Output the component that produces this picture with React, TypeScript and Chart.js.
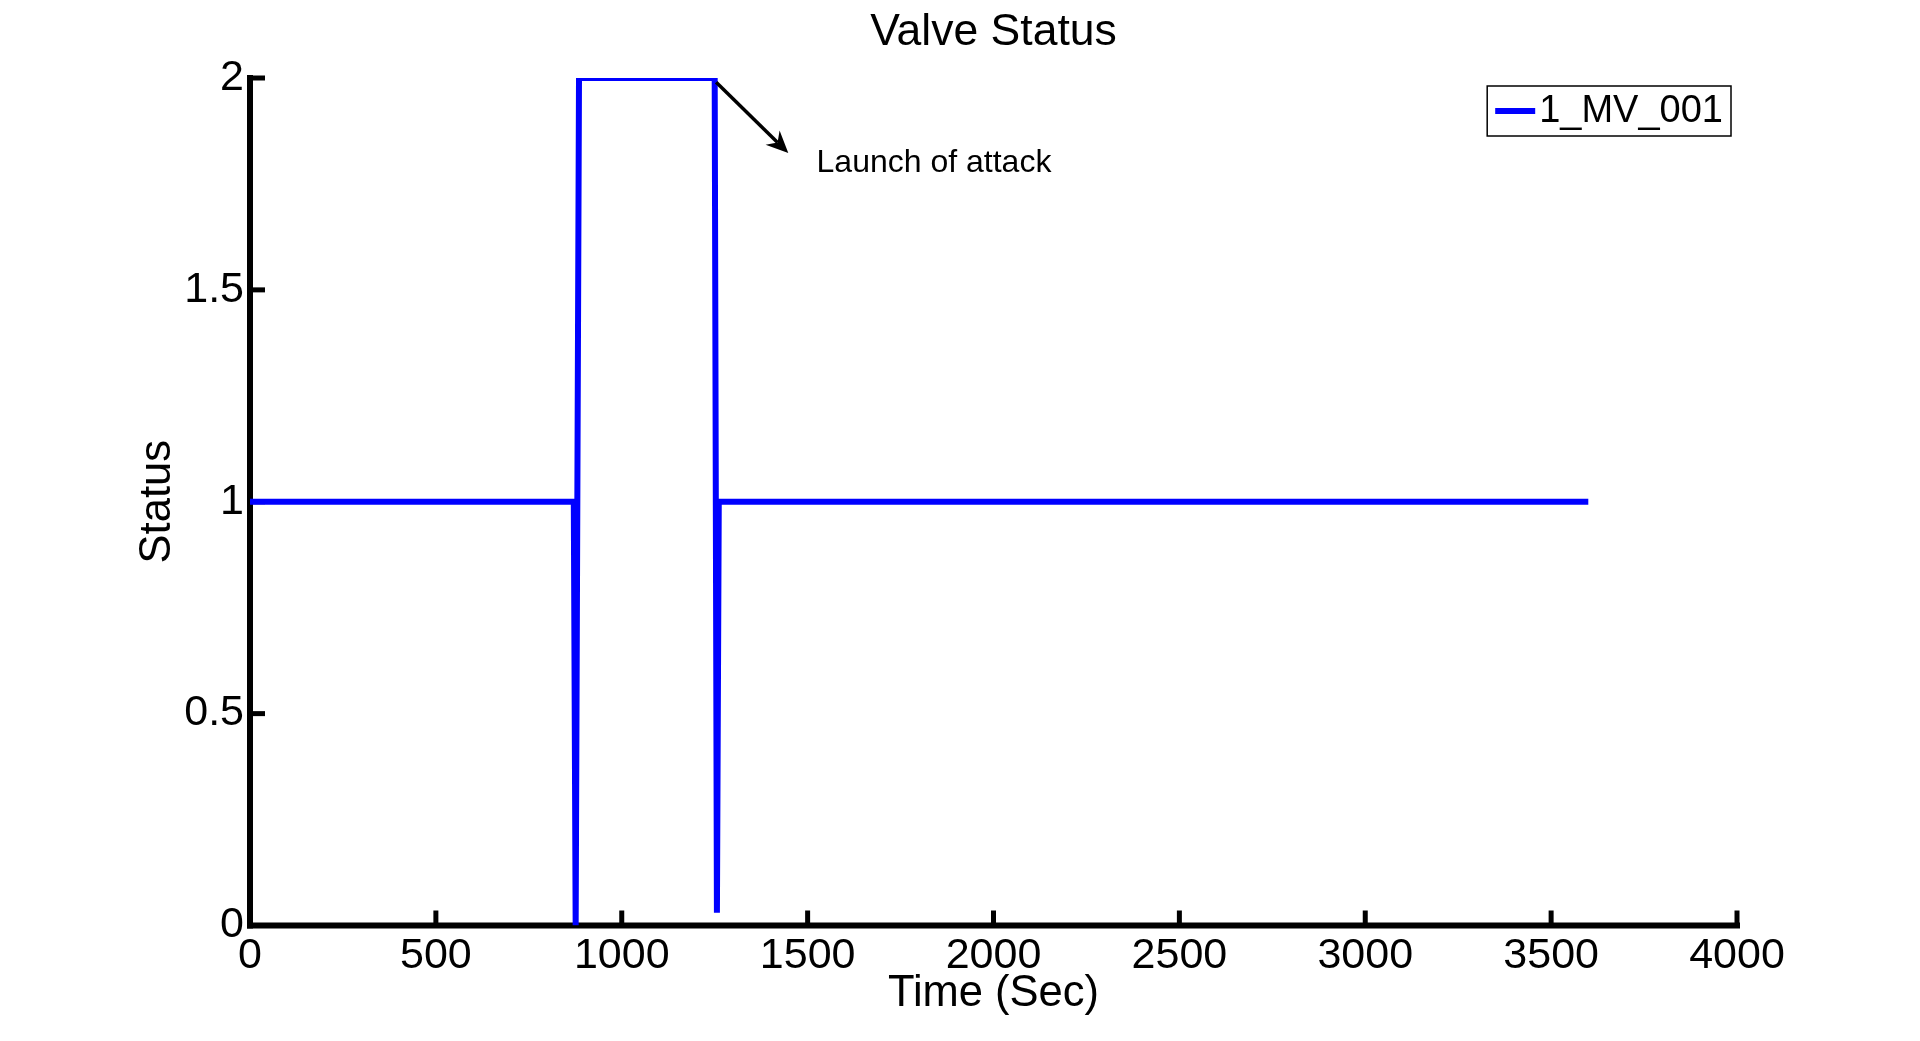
import React, { useEffect, useRef } from "react";
import { Chart, registerables } from "chart.js";

Chart.register(...registerables);

const FONT = "'Liberation Sans', Arial, Helvetica, sans-serif";

// Series: time (s) and valve status
const seriesLabel = "1_MV_001";
const times = [0, 871, 876, 885, 1250, 1256, 1261, 3600];
const status = [1, 1, 0, 2, 2, 0.03, 1, 1];

// Axis ticks
const xTickValues = [0, 500, 1000, 1500, 2000, 2500, 3000, 3500, 4000];
const yTickValues = [0, 0.5, 1, 1.5, 2];
const yTickLabels = ["0", "0.5", "1", "1.5", "2"];

// Annotation
const arrowFrom = { x: 1254, y: 1.99 };
const arrowTo = { x: 1448, y: 1.823 };
const noteText = "Launch of attack";
const notePos = { x: 1524, y: 1.8 };

const titleText = "Valve Status";
const xTitle = "Time (Sec)";
const yTitle = "Status";

const axesPlugin = {
  id: "matlabAxes",
  beforeDatasetsDraw(chart: any) {
    const { ctx, chartArea, scales } = chart;
    const { left, right, top, bottom } = chartArea;
    ctx.save();
    ctx.strokeStyle = "#000";
    ctx.lineCap = "butt";
    ctx.lineWidth = 5;
    xTickValues.forEach((v) => {
      const px = scales.x.getPixelForValue(v);
      ctx.beginPath();
      ctx.moveTo(px, bottom);
      ctx.lineTo(px, bottom - 15);
      ctx.stroke();
    });
    yTickValues.forEach((v) => {
      const py = scales.y.getPixelForValue(v);
      ctx.beginPath();
      ctx.moveTo(left, py);
      ctx.lineTo(left + 15, py);
      ctx.stroke();
    });
    ctx.lineWidth = 6;
    ctx.beginPath();
    ctx.moveTo(left, bottom + 3);
    ctx.lineTo(left, top - 3);
    ctx.stroke();
    ctx.beginPath();
    ctx.moveTo(left - 3, bottom);
    ctx.lineTo(right + 3, bottom);
    ctx.stroke();
    ctx.restore();
  },
  afterDraw(chart: any) {
    const { ctx, chartArea, scales } = chart;
    ctx.save();
    const x1 = scales.x.getPixelForValue(arrowFrom.x);
    const y1 = scales.y.getPixelForValue(arrowFrom.y);
    const x2 = scales.x.getPixelForValue(arrowTo.x);
    const y2 = scales.y.getPixelForValue(arrowTo.y);
    const ang = Math.atan2(y2 - y1, x2 - x1);
    const headLen = 22;
    const headW = 10;
    const notch = 15;
    const bx = x2 - Math.cos(ang) * notch;
    const by = y2 - Math.sin(ang) * notch;
    ctx.strokeStyle = "#000";
    ctx.fillStyle = "#000";
    ctx.lineWidth = 3.5;
    ctx.beginPath();
    ctx.moveTo(x1, y1);
    ctx.lineTo(bx, by);
    ctx.stroke();
    const hx = x2 - Math.cos(ang) * headLen;
    const hy = y2 - Math.sin(ang) * headLen;
    const px = -Math.sin(ang);
    const py = Math.cos(ang);
    ctx.beginPath();
    ctx.moveTo(x2, y2);
    ctx.lineTo(hx + px * headW, hy + py * headW);
    ctx.lineTo(bx, by);
    ctx.lineTo(hx - px * headW, hy - py * headW);
    ctx.closePath();
    ctx.fill();
    ctx.font = `32px ${FONT}`;
    ctx.textAlign = "left";
    ctx.textBaseline = "middle";
    ctx.fillText(noteText, scales.x.getPixelForValue(notePos.x), scales.y.getPixelForValue(notePos.y));

    const ds = chart.data.datasets[0];
    ctx.font = `38px ${FONT}`;
    const tw = ctx.measureText(ds.label).width;
    const boxW = 8 + 40 + 4 + tw + 8;
    const boxH = 50;
    const boxR = chartArea.right - 6;
    const boxL = boxR - boxW;
    const boxT = chartArea.top + 8;
    ctx.fillStyle = "#fff";
    ctx.fillRect(boxL, boxT, boxW, boxH);
    ctx.lineWidth = 1.5;
    ctx.strokeStyle = "#000";
    ctx.strokeRect(boxL, boxT, boxW, boxH);
    const cy = boxT + boxH / 2;
    ctx.strokeStyle = ds.borderColor;
    ctx.lineWidth = 6;
    ctx.beginPath();
    ctx.moveTo(boxL + 8, cy);
    ctx.lineTo(boxL + 48, cy);
    ctx.stroke();
    ctx.fillStyle = "#000";
    ctx.textAlign = "left";
    ctx.textBaseline = "middle";
    ctx.fillText(ds.label, boxL + 52, cy + 1);
    ctx.restore();
  },
};

export default function App() {
  const ref = useRef<HTMLCanvasElement | null>(null);
  useEffect(() => {
    if (!ref.current) return;
    Chart.defaults.font.family = FONT;
    const chart = new Chart(ref.current, {
      type: "line",
      data: {
        datasets: [
          {
            label: seriesLabel,
            data: times.map((t, i) => ({ x: t, y: status[i] })),
            borderColor: "#0000ff",
            borderWidth: 6,
            pointRadius: 0,
            fill: false,
            tension: 0,
            clip: 0,
          } as any,
        ],
      },
      options: {
        animation: false,
        responsive: false,
        maintainAspectRatio: false,
        devicePixelRatio: 1,
        layout: { padding: { top: 0, left: 0, right: 183, bottom: 0 } },
        plugins: {
          legend: { display: false },
          tooltip: { enabled: false },
          title: {
            display: true,
            text: titleText,
            fullSize: false,
            color: "#000",
            font: { size: 44.5, weight: "normal", family: FONT },
            padding: { top: 6.5, bottom: 18.1 },
          },
        },
        scales: {
          x: {
            type: "linear",
            min: 0,
            max: 4000,
            afterBuildTicks: (s: any) => {
              s.ticks = xTickValues.map((v) => ({ value: v }));
            },
            afterFit: (s: any) => {
              s.height = 115.5;
            },
            grid: { display: false, drawTicks: false },
            border: { display: false },
            ticks: {
              color: "#000",
              font: { size: 43, family: FONT },
              padding: 5,
              maxRotation: 0,
              autoSkip: false,
              callback: (v: any) => String(v),
            },
            title: {
              display: true,
              text: xTitle,
              color: "#000",
              font: { size: 43.5, family: FONT },
              padding: { top: 0, bottom: 21 },
            },
          },
          y: {
            type: "linear",
            min: 0,
            max: 2,
            afterBuildTicks: (s: any) => {
              s.ticks = yTickValues.map((v) => ({ value: v }));
            },
            afterFit: (s: any) => {
              s.width = 250;
            },
            grid: { display: false, drawTicks: false },
            border: { display: false },
            ticks: {
              color: "#000",
              font: { size: 43, family: FONT },
              padding: 6,
              callback: (v: any) => {
                const i = yTickValues.indexOf(Number(v));
                return i >= 0 ? yTickLabels[i] : "";
              },
            },
            title: {
              display: true,
              text: yTitle,
              color: "#000",
              font: { size: 43.5, family: FONT },
              padding: { top: 131.5, bottom: 0 },
            },
          },
        },
      } as any,
      plugins: [axesPlugin],
    });
    return () => chart.destroy();
  }, []);
  return (
    <div style={{ position: "absolute", left: 0, top: 0, width: 1920, height: 1041, background: "#fff" }}>
      <canvas ref={ref} width={1920} height={1041} style={{ width: 1920, height: 1041, display: "block" }} />
    </div>
  );
}
